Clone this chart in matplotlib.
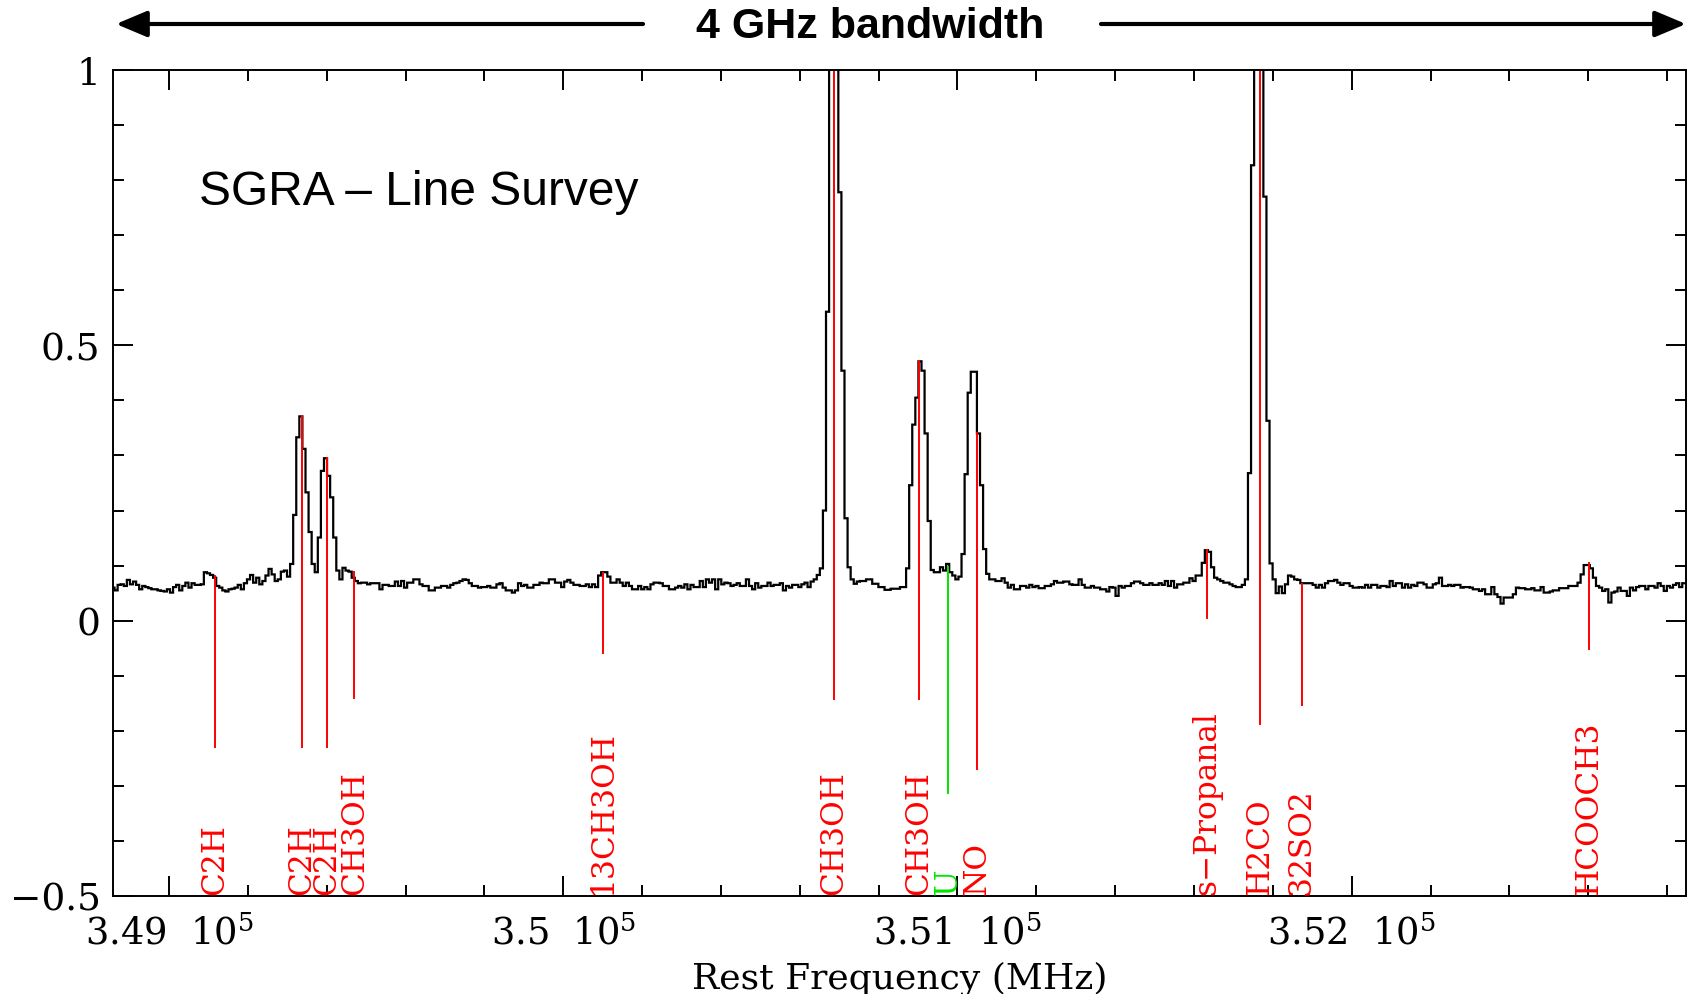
"""
SGRA line survey spectrum (4 GHz band) with line identifications.
"""

import numpy as np
import matplotlib
matplotlib.use('Agg')
import matplotlib.pyplot as plt
from matplotlib.ticker import MultipleLocator, FuncFormatter
from matplotlib.patches import FancyArrowPatch

# Spectrum: 512 channels, first channel centred at F_CENTER0 (MHz)
F_CENTER0 = 348858.0
CHAN_WIDTH = 7.8125  # MHz

intensity = [
    0.060, 0.055, 0.065, 0.066, 0.063, 0.074, 0.066, 0.071, 0.065, 0.057,
    0.063, 0.061, 0.059, 0.057, 0.057, 0.055, 0.054, 0.053, 0.057, 0.051,
    0.061, 0.065, 0.055, 0.063, 0.069, 0.060, 0.068, 0.065, 0.065, 0.066,
    0.088, 0.086, 0.083, 0.078, 0.063, 0.060, 0.055, 0.053, 0.057, 0.058,
    0.060, 0.065, 0.057, 0.068, 0.075, 0.083, 0.069, 0.078, 0.066, 0.072,
    0.082, 0.094, 0.084, 0.072, 0.075, 0.089, 0.091, 0.080, 0.103, 0.192,
    0.333, 0.371, 0.312, 0.233, 0.161, 0.103, 0.088, 0.151, 0.272, 0.295,
    0.263, 0.224, 0.151, 0.091, 0.075, 0.096, 0.091, 0.089, 0.078, 0.072,
    0.068, 0.069, 0.069, 0.066, 0.068, 0.068, 0.068, 0.057, 0.065, 0.065,
    0.063, 0.063, 0.071, 0.063, 0.072, 0.060, 0.069, 0.069, 0.075, 0.075,
    0.066, 0.063, 0.063, 0.055, 0.055, 0.060, 0.060, 0.063, 0.063, 0.060,
    0.065, 0.068, 0.069, 0.072, 0.075, 0.074, 0.068, 0.063, 0.063, 0.060,
    0.061, 0.061, 0.063, 0.060, 0.060, 0.066, 0.068, 0.060, 0.055, 0.055,
    0.051, 0.055, 0.068, 0.063, 0.065, 0.060, 0.060, 0.065, 0.065, 0.069,
    0.068, 0.068, 0.075, 0.075, 0.069, 0.069, 0.061, 0.071, 0.074, 0.069,
    0.065, 0.065, 0.063, 0.063, 0.066, 0.061, 0.066, 0.061, 0.082, 0.088,
    0.088, 0.080, 0.069, 0.069, 0.075, 0.069, 0.063, 0.069, 0.063, 0.057,
    0.057, 0.063, 0.057, 0.061, 0.057, 0.066, 0.069, 0.069, 0.068, 0.063,
    0.063, 0.057, 0.057, 0.060, 0.063, 0.060, 0.066, 0.057, 0.065, 0.061,
    0.061, 0.072, 0.061, 0.075, 0.069, 0.075, 0.057, 0.075, 0.066, 0.069,
    0.068, 0.063, 0.065, 0.068, 0.063, 0.063, 0.075, 0.063, 0.057, 0.068,
    0.060, 0.063, 0.063, 0.069, 0.063, 0.065, 0.065, 0.068, 0.055, 0.063,
    0.060, 0.065, 0.065, 0.061, 0.066, 0.069, 0.061, 0.071, 0.075, 0.083,
    0.095, 0.200, 0.561, 1.300, 1.500, 1.350, 0.778, 0.454, 0.186, 0.097,
    0.075, 0.067, 0.071, 0.072, 0.072, 0.075, 0.075, 0.067, 0.067, 0.061,
    0.061, 0.056, 0.056, 0.058, 0.058, 0.058, 0.061, 0.061, 0.095, 0.246,
    0.356, 0.405, 0.471, 0.454, 0.340, 0.181, 0.092, 0.088, 0.088, 0.097,
    0.091, 0.103, 0.088, 0.082, 0.075, 0.080, 0.121, 0.266, 0.414, 0.452,
    0.452, 0.340, 0.246, 0.130, 0.085, 0.075, 0.075, 0.072, 0.072, 0.077,
    0.069, 0.060, 0.065, 0.057, 0.057, 0.063, 0.063, 0.060, 0.065, 0.061,
    0.063, 0.059, 0.059, 0.063, 0.063, 0.066, 0.072, 0.069, 0.069, 0.071,
    0.071, 0.066, 0.065, 0.065, 0.075, 0.065, 0.060, 0.060, 0.063, 0.060,
    0.060, 0.057, 0.057, 0.053, 0.061, 0.060, 0.045, 0.063, 0.060, 0.063,
    0.063, 0.068, 0.071, 0.071, 0.068, 0.065, 0.065, 0.068, 0.065, 0.065,
    0.068, 0.065, 0.072, 0.063, 0.072, 0.060, 0.066, 0.066, 0.069, 0.069,
    0.077, 0.072, 0.082, 0.082, 0.105, 0.128, 0.125, 0.097, 0.078, 0.075,
    0.072, 0.069, 0.069, 0.066, 0.063, 0.061, 0.061, 0.065, 0.075, 0.268,
    0.827, 1.400, 1.600, 1.300, 0.770, 0.363, 0.104, 0.075, 0.050, 0.062,
    0.050, 0.066, 0.082, 0.080, 0.075, 0.074, 0.068, 0.068, 0.068, 0.068,
    0.065, 0.060, 0.065, 0.060, 0.068, 0.072, 0.072, 0.074, 0.069, 0.065,
    0.068, 0.068, 0.063, 0.060, 0.060, 0.061, 0.060, 0.065, 0.060, 0.065,
    0.065, 0.060, 0.063, 0.063, 0.061, 0.072, 0.063, 0.068, 0.068, 0.060,
    0.066, 0.060, 0.065, 0.063, 0.069, 0.069, 0.066, 0.060, 0.060, 0.066,
    0.068, 0.078, 0.063, 0.063, 0.065, 0.063, 0.065, 0.065, 0.060, 0.061,
    0.061, 0.060, 0.057, 0.057, 0.054, 0.057, 0.048, 0.048, 0.061, 0.048,
    0.043, 0.031, 0.042, 0.042, 0.042, 0.048, 0.060, 0.059, 0.059, 0.057,
    0.057, 0.059, 0.055, 0.055, 0.061, 0.051, 0.051, 0.053, 0.055, 0.055,
    0.059, 0.059, 0.059, 0.063, 0.063, 0.063, 0.069, 0.084, 0.101, 0.101,
    0.095, 0.078, 0.063, 0.060, 0.054, 0.057, 0.033, 0.051, 0.053, 0.060,
    0.054, 0.054, 0.045, 0.060, 0.055, 0.061, 0.063, 0.063, 0.057, 0.063,
    0.063, 0.060, 0.068, 0.063, 0.054, 0.063, 0.060, 0.065, 0.068, 0.061,
    0.068, 0.068,
]

# Line identifications (MHz), marker top / bottom in intensity units
line_name = ['C2H', 'C2H', 'C2H', 'CH3OH', '13CH3OH', 'CH3OH', 'CH3OH',
             'U', 'NO', 's\u2212Propanal', 'H2CO', '32SO2', 'HCOOCH3']
line_freq = [349117, 349337, 349400, 349470, 350101, 350686, 350903,
             350976, 351049, 351633, 351767, 351873, 352601]
line_top = [0.081, 0.371, 0.295, 0.089, 0.086, 1.0, 0.471,
            0.097, 0.340, 0.128, 1.0, 0.067, 0.104]
line_bottom = [-0.230, -0.230, -0.230, -0.140, -0.059, -0.142, -0.142,
               -0.313, -0.270, 0.005, -0.188, -0.153, -0.052]

XLIM = (348858, 352848)
YLIM = (-0.5, 1.0)

RED = '#ff0000'
GREEN = '#00e600'


def main():
    plt.rcParams['font.family'] = 'DejaVu Serif'
    plt.rcParams['mathtext.fontset'] = 'dejavuserif'

    fig = plt.figure(figsize=(16.89, 9.95), dpi=100)
    ax = fig.add_axes([113 / 1689, 1 - 897 / 995, 1573 / 1689, 826 / 995])

    # spectrum as histogram steps
    n = len(intensity)
    edges = F_CENTER0 - CHAN_WIDTH / 2 + CHAN_WIDTH * np.arange(n + 1)
    ax.stairs(intensity, edges, color='black', linewidth=1.6, baseline=None)

    # line markers and labels
    for name, f, top, bot in zip(line_name, line_freq, line_top, line_bottom):
        col = GREEN if name == 'U' else RED
        ax.plot([f, f], [bot, top], color=col, linewidth=1.4)
        ax.text(f, -0.496, name, rotation=90, ha='center', va='bottom',
                color=col, fontsize=22.5)

    ax.set_xlim(*XLIM)
    ax.set_ylim(*YLIM)

    ax.xaxis.set_major_locator(MultipleLocator(1000))
    ax.xaxis.set_minor_locator(MultipleLocator(200))
    ax.yaxis.set_major_locator(MultipleLocator(0.5))
    ax.yaxis.set_minor_locator(MultipleLocator(0.1))
    ax.xaxis.set_major_formatter(
        FuncFormatter(lambda v, p: f'{v / 1e5:g}  10$^5$'))
    ax.yaxis.set_major_formatter(
        FuncFormatter(lambda v, p: f'{v:g}'.replace('-', '\u2212')))

    ax.tick_params(which='both', direction='in', top=True, right=True,
                   width=1.4)
    ax.tick_params(which='major', length=14.5)
    ax.tick_params(which='minor', length=8)
    ax.tick_params(axis='x', which='major', pad=14, labelsize=26.5)
    ax.tick_params(axis='y', which='major', pad=9, labelsize=27)
    for sp in ax.spines.values():
        sp.set_linewidth(1.4)

    ax.set_xlabel('Rest Frequency (MHz)', fontsize=26, labelpad=6)

    ax.text(0.0547, 0.838, 'SGRA \u2013 Line Survey', transform=ax.transAxes,
            fontsize=34.5, family='Liberation Sans', ha='left', va='baseline')

    # bandwidth banner
    fig.text(870 / 1689, 1 - 27.5 / 995, '4 GHz bandwidth', ha='center',
             va='center', fontsize=31, fontweight='bold',
             family='Liberation Sans')
    y_arr = 1 - 25 / 995
    for x0, x1 in [(643, 116), (1101, 1686)]:
        arr = FancyArrowPatch((x0 / 1689, y_arr), (x1 / 1689, y_arr),
                              transform=fig.transFigure,
                              arrowstyle='-|>,head_length=0.95,head_width=0.4',
                              mutation_scale=20, linewidth=3, color='black',
                              shrinkA=0, shrinkB=0)
        fig.add_artist(arr)

    fig.savefig('out.png', dpi=100)
    plt.close(fig)


if __name__ == '__main__':
    main()
